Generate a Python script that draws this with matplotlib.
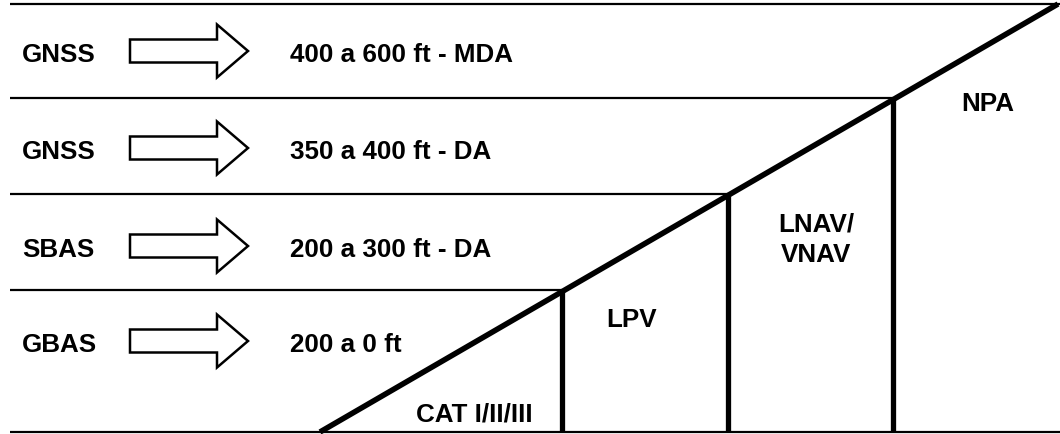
import matplotlib.pyplot as plt
from matplotlib.patches import FancyArrow

plt.rcParams['font.family'] = ['Liberation Sans', 'DejaVu Sans']

# row content
systems = ["GNSS", "GNSS", "SBAS", "GBAS"]
minima = ["400 a 600 ft - MDA", "350 a 400 ft - DA", "200 a 300 ft - DA", "200 a 0 ft"]
row_y = [52, 149, 247, 342]

# row separators (pixel y) and where each stops on the right
sep_y = [5, 99, 195, 291, 433]
sep_x_end = [1060, 893, 728, 562, 1060]

# diagonal and vertical dividers
diag_x = [320, 1058]
diag_y = [433, 5]
div_x = [562, 728, 893]
div_top = [291, 195, 99]

# approach labels
approaches = ["CAT I/II/III", "LPV", "LNAV/\nVNAV", "NPA"]
appr_x = [474, 632, 816, 988]
appr_y = [422, 327, 262, 111]

fig = plt.figure(figsize=(10.6, 4.35), dpi=100)
ax = fig.add_axes([0, 0, 1, 1])
ax.set_xlim(0, 1060)
ax.set_ylim(435, 0)
ax.axis('off')

for y, xe in zip(sep_y, sep_x_end):
    ax.plot([10, xe], [y, y], color='black', lw=1.6, solid_capstyle='butt')

ax.plot(diag_x, diag_y, color='black', lw=4, solid_capstyle='butt')
for x, yt in zip(div_x, div_top):
    ax.plot([x, x], [yt, 433], color='black', lw=3.8, solid_capstyle='butt')

for s, m, y in zip(systems, minima, row_y):
    ax.text(22, y + 10, s, fontsize=18.7, fontweight='bold', va='baseline', ha='left')
    ax.add_patch(FancyArrow(130, y, 118, 0, width=23, head_width=53, head_length=31,
                            length_includes_head=True, facecolor='white',
                            edgecolor='black', lw=1.8))
    ax.text(290, y + 10, m, fontsize=18.7, fontweight='bold', va='baseline', ha='left')

for lab, x, y in zip(approaches, appr_x, appr_y):
    ax.text(x, y, lab, fontsize=18.7, fontweight='bold', va='baseline', ha='center',
            multialignment='center', linespacing=1.35)

fig.savefig("out.png", dpi=100)
